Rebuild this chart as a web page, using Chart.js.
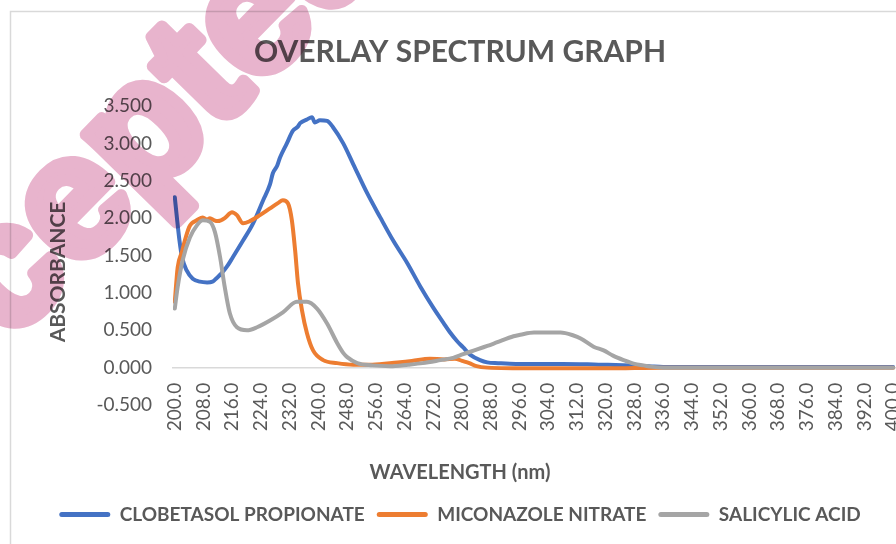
<!DOCTYPE html>
<html>
<head>
<meta charset="utf-8">
<script src="https://cdn.jsdelivr.net/npm/chart.js@4/dist/chart.umd.min.js"></script>
<style>
  html, body { margin: 0; padding: 0; background: #fff; }
  #wrap { width: 896px; height: 544px; overflow: hidden; position: relative; }
</style>
</head>
<body>
<div id="wrap"><canvas id="spec" width="896" height="544"></canvas></div>
<script>
// ==== Données (longueur d'onde nm / absorbance)
const seriesNames = ["CLOBETASOL PROPIONATE", "MICONAZOLE NITRATE", "SALICYLIC ACID"];

const clobWl = [200, 200.6, 201.3, 202, 203.3, 205, 207, 209, 210.5, 211.7, 213, 214.5, 216.2, 219, 221.8,
  224.6, 226.5, 227.3, 228.5, 229.3, 231.2, 232.9, 234.2, 234.9, 236.8, 238.2, 239, 240.4, 242.4, 244,
  246.9, 249.7, 253.6, 257.2, 260.8, 264.7, 268.3, 272, 274.8, 276.5, 278.5, 280.3, 282.3, 285, 287,
  290, 295, 300, 308, 318, 327, 332, 336, 345, 400];
const clobAbs = [2.28, 2.00, 1.70, 1.48, 1.30, 1.19, 1.15, 1.14, 1.15, 1.20, 1.26, 1.35, 1.48, 1.70, 1.93,
  2.24, 2.45, 2.60, 2.70, 2.81, 3.00, 3.17, 3.22, 3.27, 3.32, 3.35, 3.28, 3.31, 3.30, 3.22,
  3.00, 2.72, 2.33, 2.01, 1.70, 1.40, 1.09, 0.80, 0.60, 0.48, 0.36, 0.27, 0.17, 0.10, 0.07,
  0.06, 0.05, 0.05, 0.05, 0.04, 0.03, 0.02, 0.01, 0.01, 0.01];

const micoWl = [200, 200.8, 202, 202.8, 204, 204.7, 206.1, 207.8, 209, 209.8, 211, 212, 213.9, 215.2, 215.9,
  217.3, 219, 220.9, 223.7, 226.5, 228.7, 230.1, 231.5, 232.6, 233.5, 234.3, 235.4, 236.8, 238.5, 241.3,
  245.2, 249.7, 255, 262, 266, 271, 275, 278, 280, 282, 284, 287, 300, 320, 336, 400];
const micoAbs = [0.88, 1.34, 1.55, 1.70, 1.88, 1.93, 1.97, 2.01, 1.98, 2.00, 1.97, 1.96, 2.00, 2.06, 2.08,
  2.04, 1.93, 1.96, 2.04, 2.13, 2.20, 2.24, 2.20, 1.97, 1.57, 1.13, 0.77, 0.46, 0.23, 0.10,
  0.06, 0.04, 0.04, 0.07, 0.09, 0.12, 0.11, 0.12, 0.09, 0.06, 0.02, 0.00, -0.01, -0.01, 0.00, 0.00];

const saliWl = [200, 200.8, 202.2, 204.2, 206.1, 207.8, 209.8, 211.2, 212.6, 213.9, 215.3, 217.3, 220.1, 222.9,
  226.5, 230.1, 234, 236.8, 239.6, 242.4, 245.2, 247, 248, 250.8, 255, 260, 265, 269, 274, 277.5,
  280.3, 284, 287, 289.8, 294.3, 296.2, 300, 302.6, 305.4, 307.4, 311, 313, 316.6, 319.4, 322, 325,
  328, 330.5, 333, 336, 345, 400];
const saliAbs = [0.79, 1.08, 1.44, 1.74, 1.90, 1.97, 1.95, 1.81, 1.48, 1.08, 0.73, 0.54, 0.50, 0.54,
  0.63, 0.74, 0.88, 0.88, 0.79, 0.59, 0.33, 0.19, 0.14, 0.06, 0.03, 0.02, 0.04, 0.06, 0.10, 0.13,
  0.18, 0.24, 0.29, 0.34, 0.42, 0.44, 0.47, 0.47, 0.47, 0.47, 0.43, 0.39, 0.28, 0.23, 0.16, 0.10,
  0.05, 0.03, 0.01, 0.00, 0.00, 0.00];

// ==== Axes
const xRange = [199.5, 400.8];
const xStep = 8;
const yRange = [-0.5, 3.5];
const yStep = 0.5;

const TEXT = "#595959";
Chart.defaults.font.family = "Lato";
Chart.defaults.color = TEXT;

function pairs(xs, ys) {
  return xs.map((x, i) => ({ x: x, y: ys[i] }));
}

function lineSet(label, xs, ys, color, order) {
  return {
    label: label,
    data: pairs(xs, ys),
    borderColor: color,
    backgroundColor: color,
    borderWidth: 4,
    pointRadius: 0,
    cubicInterpolationMode: "monotone",
    borderCapStyle: "round",
    borderJoinStyle: "round",
    order: order,
  };
}

// ==== Décor : cadre, titre Y, filigrane
const decor = {
  id: "decor",
  beforeDraw(chart) {
    const ctx = chart.ctx;
    ctx.save();
    ctx.strokeStyle = "#d9d9d9";
    ctx.lineWidth = 1.5;
    ctx.strokeRect(10.5, 11.5, 1000, 1000);
    ctx.restore();
  },
  afterDraw(chart) {
    const ctx = chart.ctx;
    ctx.save();
    ctx.fillStyle = TEXT;
    ctx.font = "bold 21px Lato";
    ctx.textAlign = "center";
    ctx.textBaseline = "middle";
    ctx.translate(58, 272);
    ctx.rotate(-Math.PI / 2);
    ctx.fillText("ABSORBANCE", 0, 0);
    ctx.restore();

    // filigrane "Accepted" (seule la partie "cepte" est visible)
    const off = document.createElement("canvas");
    off.width = chart.width;
    off.height = chart.height;
    const o = off.getContext("2d");
    o.fillStyle = "#e8b4cd";
    o.strokeStyle = "#e8b4cd";
    o.lineWidth = 12;
    o.lineJoin = "round";
    o.font = 'bold 172px "Liberation Sans"';
    o.translate(-145, 500);
    o.rotate(-45.6 * Math.PI / 180);
    o.fillText("Accepted", 0, 0);
    o.strokeText("Accepted", 0, 0);
    ctx.save();
    ctx.globalCompositeOperation = "multiply";
    ctx.drawImage(off, 0, 0);
    ctx.restore();
  },
};

new Chart(document.getElementById("spec"), {
  type: "line",
  data: {
    datasets: [
      lineSet(seriesNames[0], clobWl, clobAbs, "#4472C4", 3),
      lineSet(seriesNames[1], micoWl, micoAbs, "#ED7D31", 2),
      lineSet(seriesNames[2], saliWl, saliAbs, "#A5A5A5", 1),
    ],
  },
  options: {
    responsive: false,
    animation: false,
    layout: { padding: { left: 24, right: 0, top: 0, bottom: 10 } },
    plugins: {
      title: {
        display: true,
        text: "OVERLAY SPECTRUM GRAPH",
        color: TEXT,
        font: { size: 30, weight: "bold" },
        padding: { top: 34, bottom: 36 },
      },
      subtitle: {
        display: true,
        position: "bottom",
        weight: 500,
        text: "WAVELENGTH (nm)",
        color: TEXT,
        font: { size: 20, weight: "bold" },
        padding: { top: 56, bottom: 8 },
      },
      legend: {
        position: "bottom",
        labels: {
          color: TEXT,
          font: { size: 19, weight: "bold" },
          boxWidth: 51,
          boxHeight: 5,
          padding: 12,
          useBorderRadius: true,
          borderRadius: 2.5,
          generateLabels: (chart) =>
            Chart.defaults.plugins.legend.labels.generateLabels(chart)
              .sort((a, b) => a.datasetIndex - b.datasetIndex)
              .map((l) => Object.assign(l, { lineWidth: 0 })),
        },
      },
      tooltip: { enabled: false },
    },
    scales: {
      x: {
        type: "linear",
        position: { y: 0 },
        min: xRange[0],
        max: xRange[1],
        grid: { display: false, drawTicks: false },
        border: { display: true, color: "#d9d9d9", width: 1.5 },
        ticks: {
          stepSize: xStep,
          includeBounds: false,
          autoSkip: false,
          minRotation: 90,
          maxRotation: 90,
          padding: 15,
          color: TEXT,
          font: { size: 19 },
          callback: (v) => v.toFixed(1),
        },
        afterFit(scale) {
          scale.paddingLeft = 0;
          scale.paddingRight = 0;
        },
      },
      y: {
        min: yRange[0],
        max: yRange[1],
        grid: { display: false, drawTicks: false },
        border: { display: false },
        ticks: {
          stepSize: yStep,
          padding: 21,
          color: TEXT,
          font: { size: 19 },
          callback: (v) => v.toFixed(3),
        },
        afterFit(scale) {
          scale.width = 149;
          scale.paddingTop = 0;
          scale.paddingBottom = 0;
        },
      },
    },
  },
  plugins: [decor],
});
</script>
</body>
</html>
